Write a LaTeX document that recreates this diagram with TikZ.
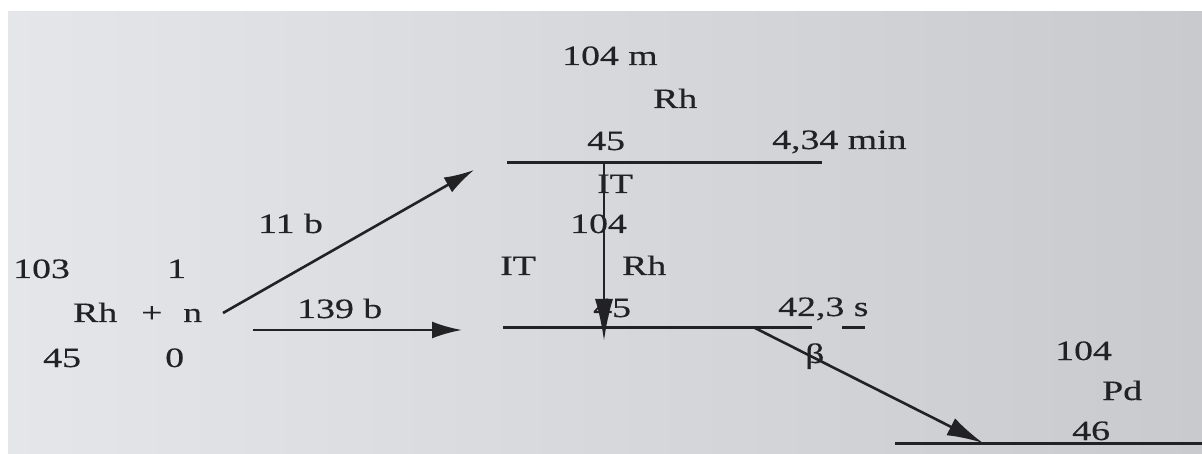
\documentclass[tikz,border=0pt]{standalone}
\usepackage{fontspec}
\setmainfont{Liberation Serif}[FakeStretch=1.35, FakeBold=0.4]
\usetikzlibrary{arrows.meta}
\definecolor{paperL}{RGB}{228,230,234}
\definecolor{paperR}{RGB}{201,202,205}
\definecolor{ink}{RGB}{34,34,36}
\tikzset{
  lbl/.style={anchor=base west, inner sep=0pt, text=ink, font=\fontsize{28}{32}\selectfont},
  level/.style={draw=ink, line width=3pt},
  trans/.style={draw=ink, line width=2.6pt, -{Latex[length=30pt, width=17pt]}}
}
\begin{document}
\begin{tikzpicture}[x=1pt, y=-1pt]
    % 1. Nền giấy
    \useasboundingbox (0,0) rectangle (1202,454);
    \fill[white] (0,0) rectangle (1202,454);
    \shade[left color=paperL, right color=paperR] (8,12) rectangle (1202,454);

    % 2. Các mức năng lượng
    \coordinate (rhm-l) at (507,163);
    \coordinate (rhm-r) at (822,163);
    \coordinate (rhg-l) at (503,327);
    \coordinate (rhg-r) at (812,327);
    \coordinate (pd-l) at (895,443);
    \coordinate (pd-r) at (1202,443);
    \draw[level] (rhm-l) -- (rhm-r);
    \draw[level] (rhg-l) -- (rhg-r);
    \draw[level] (842,327) -- (865,327);
    \draw[level] (pd-l) -- (pd-r);

    % 3. Các nhãn
    \node[lbl] (a-rh) at (13,278) {103};
    \node[lbl] (a-n) at (167,278) {1};
    \node[lbl] (rh) at (73,322) {Rh};
    \node[lbl] (plus) at (141,322) {+};
    \node[lbl] (n) at (183,322) {n};
    \node[lbl] (z-rh) at (43,367) {45};
    \node[lbl] (z-n) at (165,367) {0};
    \node[lbl] (sig-m) at (258,233) {11 b};
    \node[lbl] (sig-g) at (297,318) {139 b};
    \node[lbl] (a-rhm) at (562,65) {104 m};
    \node[lbl] (rhm) at (653,108) {Rh};
    \node[lbl] (z-rhm) at (587,150) {45};
    \node[lbl] (t-rhm) at (772,149) {4,34 min};
    \node[lbl] (it-m) at (597,193) {IT};
    \node[lbl] (a-rhg) at (570,233) {104};
    \node[lbl] (it-g) at (500,275) {IT};
    \node[lbl] (rhg) at (622,275) {Rh};
    \node[lbl] (z-rhg) at (593,317) {45};
    \node[lbl] (t-rhg) at (778,316) {42,3 s};
    \node[lbl] (beta) at (805,363) {β};
    \node[lbl] (a-pd) at (1055,360) {104};
    \node[lbl] (pd) at (1102,400) {Pd};
    \node[lbl] (z-pd) at (1072,440) {46};

    % 4. Các mũi tên chuyển mức
    \coordinate (n-out) at (223,313);
    \coordinate (cap-m) at (474,170);
    \coordinate (cap-in) at (253,330);
    \coordinate (cap-g) at (462,330);
    \coordinate (it-top) at (604,163);
    \coordinate (it-end) at (604,341);
    \coordinate (beta-s) at (753,327);
    \coordinate (beta-e) at (983,443);
    \draw[trans] (n-out) -- (cap-m);
    \draw[trans] (cap-in) -- (cap-g);
    \draw[trans, -{Latex[length=42pt, width=18pt]}] (it-top) -- (it-end);
    \draw[trans, -{Latex[length=36pt, width=19pt]}] (beta-s) -- (beta-e);
\end{tikzpicture}
\end{document}
